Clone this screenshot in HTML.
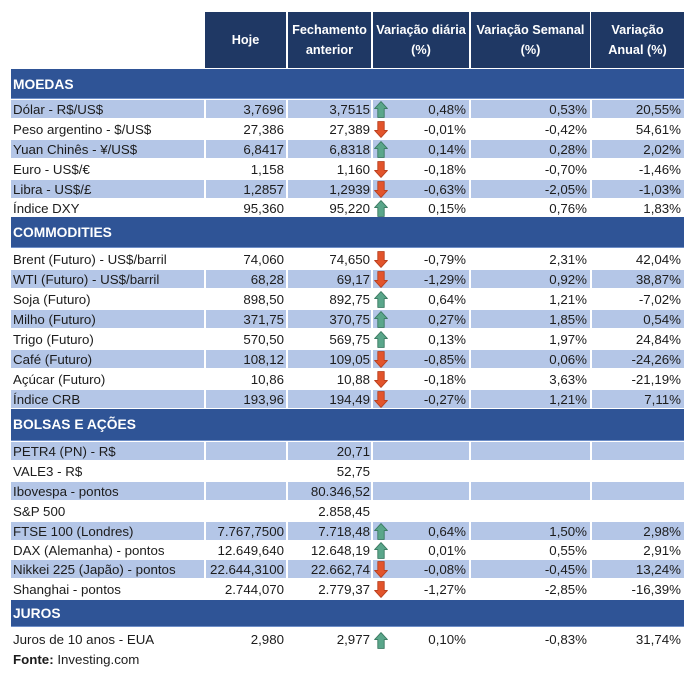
<!DOCTYPE html>
<html><head><meta charset="utf-8">
<style>
html,body{margin:0;padding:0;background:#fff;}
body{width:698px;height:676px;position:relative;overflow:hidden;font-family:"Liberation Sans",Arial,sans-serif;}
.hd{position:absolute;top:12px;height:56px;background:#1F3864;color:#fff;font-weight:bold;font-size:12.7px;line-height:20px;text-align:center;display:flex;align-items:center;justify-content:center;}
.sec{position:absolute;left:11px;width:673px;background:#2F5496;color:#fff;font-weight:bold;font-size:13.8px;padding-left:2px;box-sizing:border-box;border-bottom:1px solid #6f8fc8;}
.r{position:absolute;left:0;width:698px;height:20px;}
.c{position:absolute;top:0;height:20px;line-height:21px;font-size:13.3px;color:#1c1c1c;white-space:nowrap;box-sizing:border-box;}
.s .c{background:#B4C6E7;top:1px;height:18px;line-height:19px;}
.l{left:11px;width:193px;padding-left:2px;}
.h{left:206px;width:80px;text-align:right;padding-right:2px;}
.f{left:288px;width:83px;text-align:right;padding-right:1px;}
.d{left:373px;width:96px;text-align:right;padding-right:3px;}
.w{left:471px;width:119px;text-align:right;padding-right:3px;}
.a{left:592px;width:92px;text-align:right;padding-right:3px;}
.ar{position:absolute;left:374px;top:2px;width:14px;height:17px;}
</style></head><body>

<div class="hd" style="left:205px;width:81px;">Hoje</div>
<div class="hd" style="left:288px;width:83px;">Fechamento<br>anterior</div>
<div class="hd" style="left:373px;width:96px;">Variação diária<br>(%)</div>
<div class="hd" style="left:471px;width:119px;">Variação Semanal<br>(%)</div>
<div class="hd" style="left:591px;width:93px;">Variação<br>Anual (%)</div>

<div class="sec" style="top:69px;height:30px;line-height:31px;">MOEDAS</div>

<div class="r s" style="top:99px;"><div class="c l">Dólar - R$/US$</div><div class="c h">3,7696</div><div class="c f">3,7515</div><div class="c d">0,48%</div><div class="c w">0,53%</div><div class="c a">20,55%</div><svg class="ar" viewBox="0 0 14 17"><polygon points="7,0.6 13.4,7.6 10.2,7.6 10.2,16.4 3.8,16.4 3.8,7.6 0.6,7.6" fill="#5AA68A" stroke="#3B7A62" stroke-width="0.9" stroke-linejoin="round"/></svg></div>
<div class="r" style="top:119px;"><div class="c l">Peso argentino - $/US$</div><div class="c h">27,386</div><div class="c f">27,389</div><div class="c d">-0,01%</div><div class="c w">-0,42%</div><div class="c a">54,61%</div><svg class="ar" viewBox="0 0 14 17"><polygon points="7,16.4 13.4,9.4 10.2,9.4 10.2,0.6 3.8,0.6 3.8,9.4 0.6,9.4" fill="#E2542B" stroke="#B8401E" stroke-width="0.9" stroke-linejoin="round"/></svg></div>
<div class="r s" style="top:139px;"><div class="c l">Yuan Chinês - ¥/US$</div><div class="c h">6,8417</div><div class="c f">6,8318</div><div class="c d">0,14%</div><div class="c w">0,28%</div><div class="c a">2,02%</div><svg class="ar" viewBox="0 0 14 17"><polygon points="7,0.6 13.4,7.6 10.2,7.6 10.2,16.4 3.8,16.4 3.8,7.6 0.6,7.6" fill="#5AA68A" stroke="#3B7A62" stroke-width="0.9" stroke-linejoin="round"/></svg></div>
<div class="r" style="top:159px;"><div class="c l">Euro - US$/€</div><div class="c h">1,158</div><div class="c f">1,160</div><div class="c d">-0,18%</div><div class="c w">-0,70%</div><div class="c a">-1,46%</div><svg class="ar" viewBox="0 0 14 17"><polygon points="7,16.4 13.4,9.4 10.2,9.4 10.2,0.6 3.8,0.6 3.8,9.4 0.6,9.4" fill="#E2542B" stroke="#B8401E" stroke-width="0.9" stroke-linejoin="round"/></svg></div>
<div class="r s" style="top:179px;"><div class="c l">Libra - US$/£</div><div class="c h">1,2857</div><div class="c f">1,2939</div><div class="c d">-0,63%</div><div class="c w">-2,05%</div><div class="c a">-1,03%</div><svg class="ar" viewBox="0 0 14 17"><polygon points="7,16.4 13.4,9.4 10.2,9.4 10.2,0.6 3.8,0.6 3.8,9.4 0.6,9.4" fill="#E2542B" stroke="#B8401E" stroke-width="0.9" stroke-linejoin="round"/></svg></div>
<div class="r" style="top:198px;"><div class="c l">Índice DXY</div><div class="c h">95,360</div><div class="c f">95,220</div><div class="c d">0,15%</div><div class="c w">0,76%</div><div class="c a">1,83%</div><svg class="ar" viewBox="0 0 14 17"><polygon points="7,0.6 13.4,7.6 10.2,7.6 10.2,16.4 3.8,16.4 3.8,7.6 0.6,7.6" fill="#5AA68A" stroke="#3B7A62" stroke-width="0.9" stroke-linejoin="round"/></svg></div>

<div class="sec" style="top:217px;height:31px;line-height:31px;">COMMODITIES</div>

<div class="r" style="top:249px;"><div class="c l">Brent (Futuro) - US$/barril</div><div class="c h">74,060</div><div class="c f">74,650</div><div class="c d">-0,79%</div><div class="c w">2,31%</div><div class="c a">42,04%</div><svg class="ar" viewBox="0 0 14 17"><polygon points="7,16.4 13.4,9.4 10.2,9.4 10.2,0.6 3.8,0.6 3.8,9.4 0.6,9.4" fill="#E2542B" stroke="#B8401E" stroke-width="0.9" stroke-linejoin="round"/></svg></div>
<div class="r s" style="top:269px;"><div class="c l">WTI (Futuro) - US$/barril</div><div class="c h">68,28</div><div class="c f">69,17</div><div class="c d">-1,29%</div><div class="c w">0,92%</div><div class="c a">38,87%</div><svg class="ar" viewBox="0 0 14 17"><polygon points="7,16.4 13.4,9.4 10.2,9.4 10.2,0.6 3.8,0.6 3.8,9.4 0.6,9.4" fill="#E2542B" stroke="#B8401E" stroke-width="0.9" stroke-linejoin="round"/></svg></div>
<div class="r" style="top:289px;"><div class="c l">Soja (Futuro)</div><div class="c h">898,50</div><div class="c f">892,75</div><div class="c d">0,64%</div><div class="c w">1,21%</div><div class="c a">-7,02%</div><svg class="ar" viewBox="0 0 14 17"><polygon points="7,0.6 13.4,7.6 10.2,7.6 10.2,16.4 3.8,16.4 3.8,7.6 0.6,7.6" fill="#5AA68A" stroke="#3B7A62" stroke-width="0.9" stroke-linejoin="round"/></svg></div>
<div class="r s" style="top:309px;"><div class="c l">Milho (Futuro)</div><div class="c h">371,75</div><div class="c f">370,75</div><div class="c d">0,27%</div><div class="c w">1,85%</div><div class="c a">0,54%</div><svg class="ar" viewBox="0 0 14 17"><polygon points="7,0.6 13.4,7.6 10.2,7.6 10.2,16.4 3.8,16.4 3.8,7.6 0.6,7.6" fill="#5AA68A" stroke="#3B7A62" stroke-width="0.9" stroke-linejoin="round"/></svg></div>
<div class="r" style="top:329px;"><div class="c l">Trigo (Futuro)</div><div class="c h">570,50</div><div class="c f">569,75</div><div class="c d">0,13%</div><div class="c w">1,97%</div><div class="c a">24,84%</div><svg class="ar" viewBox="0 0 14 17"><polygon points="7,0.6 13.4,7.6 10.2,7.6 10.2,16.4 3.8,16.4 3.8,7.6 0.6,7.6" fill="#5AA68A" stroke="#3B7A62" stroke-width="0.9" stroke-linejoin="round"/></svg></div>
<div class="r s" style="top:349px;"><div class="c l">Café (Futuro)</div><div class="c h">108,12</div><div class="c f">109,05</div><div class="c d">-0,85%</div><div class="c w">0,06%</div><div class="c a">-24,26%</div><svg class="ar" viewBox="0 0 14 17"><polygon points="7,16.4 13.4,9.4 10.2,9.4 10.2,0.6 3.8,0.6 3.8,9.4 0.6,9.4" fill="#E2542B" stroke="#B8401E" stroke-width="0.9" stroke-linejoin="round"/></svg></div>
<div class="r" style="top:369px;"><div class="c l">Açúcar (Futuro)</div><div class="c h">10,86</div><div class="c f">10,88</div><div class="c d">-0,18%</div><div class="c w">3,63%</div><div class="c a">-21,19%</div><svg class="ar" viewBox="0 0 14 17"><polygon points="7,16.4 13.4,9.4 10.2,9.4 10.2,0.6 3.8,0.6 3.8,9.4 0.6,9.4" fill="#E2542B" stroke="#B8401E" stroke-width="0.9" stroke-linejoin="round"/></svg></div>
<div class="r s" style="top:389px;"><div class="c l">Índice CRB</div><div class="c h">193,96</div><div class="c f">194,49</div><div class="c d">-0,27%</div><div class="c w">1,21%</div><div class="c a">7,11%</div><svg class="ar" viewBox="0 0 14 17"><polygon points="7,16.4 13.4,9.4 10.2,9.4 10.2,0.6 3.8,0.6 3.8,9.4 0.6,9.4" fill="#E2542B" stroke="#B8401E" stroke-width="0.9" stroke-linejoin="round"/></svg></div>

<div class="sec" style="top:409px;height:32px;line-height:32px;">BOLSAS E AÇÕES</div>

<div class="r s" style="top:441px;"><div class="c l">PETR4 (PN) - R$</div><div class="c h"></div><div class="c f">20,71</div><div class="c d"></div><div class="c w"></div><div class="c a"></div></div>
<div class="r" style="top:461px;"><div class="c l">VALE3 - R$</div><div class="c f">52,75</div></div>
<div class="r s" style="top:481px;"><div class="c l">Ibovespa - pontos</div><div class="c h"></div><div class="c f">80.346,52</div><div class="c d"></div><div class="c w"></div><div class="c a"></div></div>
<div class="r" style="top:501px;"><div class="c l">S&amp;P 500</div><div class="c f">2.858,45</div></div>
<div class="r s" style="top:521px;"><div class="c l">FTSE 100 (Londres)</div><div class="c h">7.767,7500</div><div class="c f">7.718,48</div><div class="c d">0,64%</div><div class="c w">1,50%</div><div class="c a">2,98%</div><svg class="ar" viewBox="0 0 14 17"><polygon points="7,0.6 13.4,7.6 10.2,7.6 10.2,16.4 3.8,16.4 3.8,7.6 0.6,7.6" fill="#5AA68A" stroke="#3B7A62" stroke-width="0.9" stroke-linejoin="round"/></svg></div>
<div class="r" style="top:540px;"><div class="c l">DAX (Alemanha) - pontos</div><div class="c h">12.649,640</div><div class="c f">12.648,19</div><div class="c d">0,01%</div><div class="c w">0,55%</div><div class="c a">2,91%</div><svg class="ar" viewBox="0 0 14 17"><polygon points="7,0.6 13.4,7.6 10.2,7.6 10.2,16.4 3.8,16.4 3.8,7.6 0.6,7.6" fill="#5AA68A" stroke="#3B7A62" stroke-width="0.9" stroke-linejoin="round"/></svg></div>
<div class="r s" style="top:559px;"><div class="c l">Nikkei 225 (Japão) - pontos</div><div class="c h">22.644,3100</div><div class="c f">22.662,74</div><div class="c d">-0,08%</div><div class="c w">-0,45%</div><div class="c a">13,24%</div><svg class="ar" viewBox="0 0 14 17"><polygon points="7,16.4 13.4,9.4 10.2,9.4 10.2,0.6 3.8,0.6 3.8,9.4 0.6,9.4" fill="#E2542B" stroke="#B8401E" stroke-width="0.9" stroke-linejoin="round"/></svg></div>
<div class="r" style="top:579px;"><div class="c l">Shanghai - pontos</div><div class="c h">2.744,070</div><div class="c f">2.779,37</div><div class="c d">-1,27%</div><div class="c w">-2,85%</div><div class="c a">-16,39%</div><svg class="ar" viewBox="0 0 14 17"><polygon points="7,16.4 13.4,9.4 10.2,9.4 10.2,0.6 3.8,0.6 3.8,9.4 0.6,9.4" fill="#E2542B" stroke="#B8401E" stroke-width="0.9" stroke-linejoin="round"/></svg></div>

<div class="sec" style="top:600px;height:27px;line-height:27px;">JUROS</div>

<div class="r" style="top:629px;height:22px;"><div class="c l" style="line-height:22px;height:22px;">Juros de 10 anos - EUA</div><div class="c h" style="line-height:22px;height:22px;">2,980</div><div class="c f" style="line-height:22px;height:22px;">2,977</div><div class="c d" style="line-height:22px;height:22px;">0,10%</div><div class="c w" style="line-height:22px;height:22px;">-0,83%</div><div class="c a" style="line-height:22px;height:22px;">31,74%</div><svg class="ar" style="top:3px;" viewBox="0 0 14 17"><polygon points="7,0.6 13.4,7.6 10.2,7.6 10.2,16.4 3.8,16.4 3.8,7.6 0.6,7.6" fill="#5AA68A" stroke="#3B7A62" stroke-width="0.9" stroke-linejoin="round"/></svg></div>

<div style="position:absolute;left:13px;top:649px;height:20px;line-height:21px;font-size:13.3px;color:#1c1c1c;white-space:nowrap;"><b>Fonte:</b> Investing.com</div>

</body></html>
